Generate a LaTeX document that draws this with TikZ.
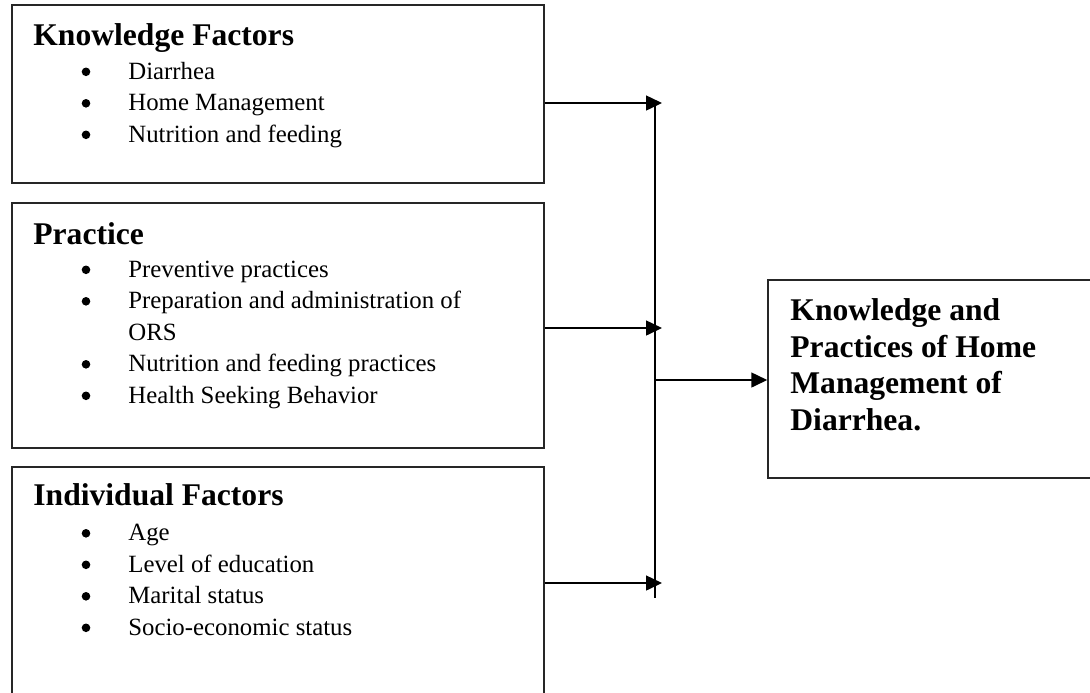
\documentclass[tikz,border=0pt]{standalone}
\usepackage{fontspec}
\setmainfont{Liberation Serif}
\usetikzlibrary{arrows.meta,fit}
\begin{document}
\begin{tikzpicture}[x=0.5pt,y=-0.5pt,
  box/.style={draw=black!85, line width=0.75pt, inner sep=0pt},
  head/.style={font=\fontsize{15.8}{18}\selectfont\bfseries, anchor=base west, inner sep=0pt},
  item/.style={font=\fontsize{12.4}{15}\selectfont, anchor=base west, inner sep=0pt},
  bul/.style={circle, fill=black, inner sep=0pt, minimum size=4.3pt, yshift=3.6pt},
  arr/.style={draw=black, line width=0.75pt, -{Triangle[length=8pt,width=7.5pt]}},
  bus/.style={draw=black, line width=0.75pt}]
\useasboundingbox (0,0) rectangle (1090,692);
\clip (0,0) rectangle (1090,692);
% boxes
\node[box, fit={(12,5) (544,183)}] (kf) {};
\node[box, fit={(12,203) (544,448)}] (pr) {};
\node[box, fit={(12,467) (544,730)}] (ind) {};
\node[box, fit={(768,280) (1110,478)}] (out) {};
% Knowledge Factors
\node[head] (kfh) at (33,45) {Knowledge Factors};
\node[bul] (kb1) at (86,79) {};
\node[item] (kt1) at (128,79) {Diarrhea};
\node[bul] (kb2) at (86,110.5) {};
\node[item] (kt2) at (128,110.5) {Home Management};
\node[bul] (kb3) at (86,142) {};
\node[item] (kt3) at (128,142) {Nutrition and feeding};
% Practice
\node[head] (prh) at (33,244) {Practice};
\node[bul] (pb1) at (86,277) {};
\node[item] (pt1) at (128,277) {Preventive practices};
\node[bul] (pb2) at (86,308.5) {};
\node[item] (pt2) at (128,308.5) {Preparation and administration of};
\node[item] (pt2b) at (128,340) {ORS};
\node[bul] (pb3) at (86,371.5) {};
\node[item] (pt3) at (128,371.5) {Nutrition and feeding practices};
\node[bul] (pb4) at (86,403) {};
\node[item] (pt4) at (128,403) {Health Seeking Behavior};
% Individual Factors
\node[head] (inh) at (33,505) {Individual Factors};
\node[bul] (ib1) at (86,540.5) {};
\node[item] (it1) at (128,540.5) {Age};
\node[bul] (ib2) at (86,572) {};
\node[item] (it2) at (128,572) {Level of education};
\node[bul] (ib3) at (86,603.5) {};
\node[item] (it3) at (128,603.5) {Marital status};
\node[bul] (ib4) at (86,635) {};
\node[item] (it4) at (128,635) {Socio-economic status};
% Outcome
\node[head] (o1) at (790,320) {Knowledge and};
\node[head] (o2) at (790,357) {Practices of Home};
\node[head] (o3) at (790,393.5) {Management of};
\node[head] (o4) at (790,430) {Diarrhea.};
% connectors
\coordinate (t1) at (662,103);
\coordinate (t2) at (662,328);
\coordinate (t3) at (662,583);
\coordinate (jt) at (655,103);
\coordinate (jb) at (655,598);
\coordinate (jm) at (655,380);
\draw[bus] (jt) -- (jb);
\draw[arr] (kf.east |- t1) -- (t1);
\draw[arr] (pr.east |- t2) -- (t2);
\draw[arr] (ind.east |- t3) -- (t3);
\draw[arr] (jm) -- (out.west |- jm);
\end{tikzpicture}
\end{document}
